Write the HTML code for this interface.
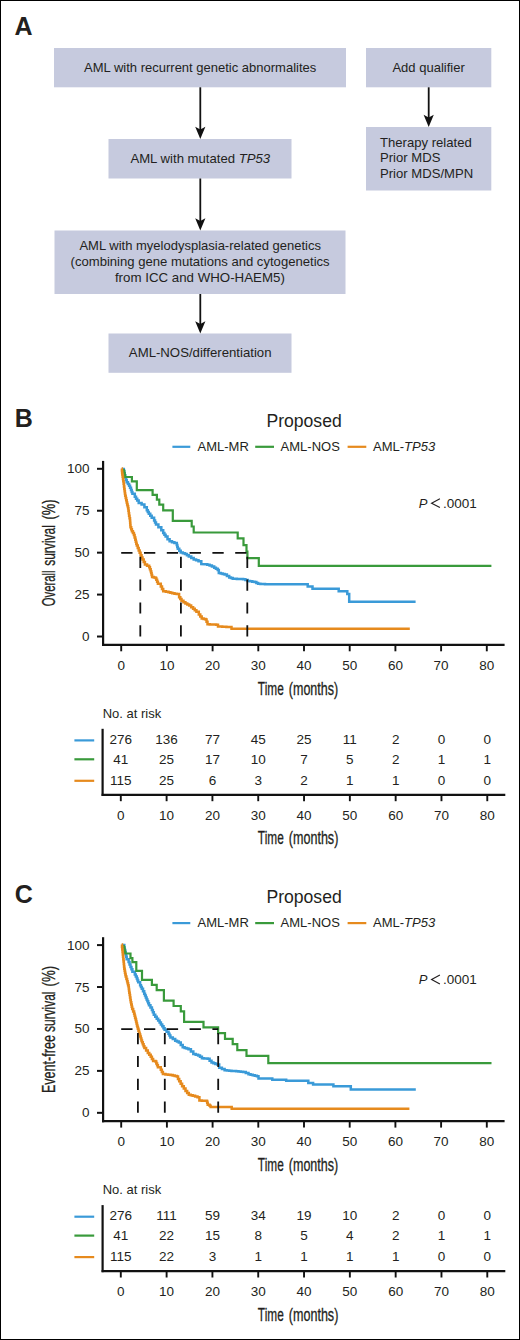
<!DOCTYPE html>
<html><head><meta charset="utf-8"><title>Figure</title>
<style>
html,body{margin:0;padding:0;background:#fff;}
body{width:520px;height:1340px;overflow:hidden;}
.frame{position:absolute;left:0;top:0;width:518px;height:1338px;border:1px solid #000;}
svg{position:absolute;left:0;top:0;}
text{font-family:"Liberation Sans", sans-serif;fill:#231f20;}
.lab{font-weight:bold;font-size:25px;}
.bt{font-size:13px;}
.t13{font-size:13px;}
.n13{font-size:13.5px;}
.title{font-size:17.6px;}
.cond{font-size:17.5px;stroke:#231f20;stroke-width:0.3px;}
</style></head>
<body>
<div class="frame"></div>
<svg width="520" height="1340" viewBox="0 0 520 1340">
<text x="14.5" y="35" class="lab">A</text>
<rect x="54" y="48" width="292" height="39.3" fill="#c6cade"/>
<rect x="366" y="48" width="125.3" height="39.3" fill="#c6cade"/>
<rect x="108.5" y="139" width="183" height="39.5" fill="#c6cade"/>
<rect x="366" y="127" width="125.3" height="63.5" fill="#c6cade"/>
<rect x="54.5" y="230.5" width="291" height="63.5" fill="#c6cade"/>
<rect x="108.5" y="333.5" width="183" height="39.3" fill="#c6cade"/>
<text x="200.2" y="72" class="bt" text-anchor="middle">AML with recurrent genetic abnormalites</text>
<text x="428.6" y="72" class="bt" text-anchor="middle">Add qualifier</text>
<text x="200.3" y="162.9" class="bt" style="font-size:13.15px" text-anchor="middle">AML with mutated <tspan font-style="italic">TP53</tspan></text>
<text x="380" y="146.5" class="bt" style="font-size:13.1px">Therapy related</text>
<text x="380" y="162.3" class="bt" style="font-size:13.1px">Prior MDS</text>
<text x="380" y="178.4" class="bt" style="font-size:13.1px">Prior MDS/MPN</text>
<text x="200.2" y="249.6" class="bt" text-anchor="middle">AML with myelodysplasia-related genetics</text>
<text x="200.1" y="266.3" class="bt" style="font-size:13.1px" text-anchor="middle">(combining gene mutations and cytogenetics</text>
<text x="199.9" y="282.3" class="bt" style="font-size:13.3px" text-anchor="middle">from ICC and WHO-HAEM5)</text>
<text x="200.2" y="356.6" class="bt" style="font-size:13.2px" text-anchor="middle">AML-NOS/differentiation</text>
<line x1="200.3" y1="87.3" x2="200.3" y2="133" stroke="#111" stroke-width="1.8"/>
<path d="M195.2 126.7 L200.3 129.4 L205.4 126.7 L200.3 139 Z" fill="#111"/>
<line x1="200.3" y1="178.5" x2="200.3" y2="224.5" stroke="#111" stroke-width="1.8"/>
<path d="M195.2 218.2 L200.3 220.9 L205.4 218.2 L200.3 230.5 Z" fill="#111"/>
<line x1="200.3" y1="294" x2="200.3" y2="327.5" stroke="#111" stroke-width="1.8"/>
<path d="M195.2 321.2 L200.3 323.9 L205.4 321.2 L200.3 333.5 Z" fill="#111"/>
<line x1="428.7" y1="87.3" x2="428.7" y2="121" stroke="#111" stroke-width="1.8"/>
<path d="M423.6 114.7 L428.7 117.4 L433.8 114.7 L428.7 127 Z" fill="#111"/>
<g transform="translate(0,0)">
<text x="14.8" y="426.7" class="lab">B</text>
<text x="304.1" y="426.7" class="title" text-anchor="middle">Proposed</text>
<line x1="172.4" y1="446.8" x2="190.3" y2="446.8" stroke="#3a9ad8" stroke-width="2.2"/>
<text x="197.5" y="451.2" class="t13">AML-MR</text>
<line x1="255.2" y1="446.8" x2="274" y2="446.8" stroke="#399a3b" stroke-width="2.2"/>
<text x="280.6" y="451.2" class="t13">AML-NOS</text>
<line x1="347.6" y1="446.8" x2="366.3" y2="446.8" stroke="#e68a1d" stroke-width="2.2"/>
<text x="373" y="451.2" class="t13">AML-<tspan font-style="italic">TP53</tspan></text>
<line x1="103.1" y1="460.9" x2="103.1" y2="646" stroke="#111" stroke-width="2.2"/>
<line x1="97" y1="468.8" x2="103" y2="468.8" stroke="#111" stroke-width="2"/>
<text x="89.6" y="473.3" class="n13" text-anchor="end">100</text>
<line x1="97" y1="510.73" x2="103" y2="510.73" stroke="#111" stroke-width="2"/>
<text x="89.6" y="515.23" class="n13" text-anchor="end">75</text>
<line x1="97" y1="552.66" x2="103" y2="552.66" stroke="#111" stroke-width="2"/>
<text x="89.6" y="557.16" class="n13" text-anchor="end">50</text>
<line x1="97" y1="594.59" x2="103" y2="594.59" stroke="#111" stroke-width="2"/>
<text x="89.6" y="599.09" class="n13" text-anchor="end">25</text>
<line x1="97" y1="636.52" x2="103" y2="636.52" stroke="#111" stroke-width="2"/>
<text x="89.6" y="641.02" class="n13" text-anchor="end">0</text>
<line x1="102" y1="644.9" x2="504.6" y2="644.9" stroke="#111" stroke-width="2.3"/>
<line x1="121.2" y1="645" x2="121.2" y2="651.3" stroke="#111" stroke-width="1.9"/>
<text x="121.2" y="669.6" class="n13" text-anchor="middle">0</text>
<line x1="166.9" y1="645" x2="166.9" y2="651.3" stroke="#111" stroke-width="1.9"/>
<text x="166.9" y="669.6" class="n13" text-anchor="middle">10</text>
<line x1="212.6" y1="645" x2="212.6" y2="651.3" stroke="#111" stroke-width="1.9"/>
<text x="212.6" y="669.6" class="n13" text-anchor="middle">20</text>
<line x1="258.3" y1="645" x2="258.3" y2="651.3" stroke="#111" stroke-width="1.9"/>
<text x="258.3" y="669.6" class="n13" text-anchor="middle">30</text>
<line x1="304" y1="645" x2="304" y2="651.3" stroke="#111" stroke-width="1.9"/>
<text x="304" y="669.6" class="n13" text-anchor="middle">40</text>
<line x1="349.7" y1="645" x2="349.7" y2="651.3" stroke="#111" stroke-width="1.9"/>
<text x="349.7" y="669.6" class="n13" text-anchor="middle">50</text>
<line x1="395.4" y1="645" x2="395.4" y2="651.3" stroke="#111" stroke-width="1.9"/>
<text x="395.4" y="669.6" class="n13" text-anchor="middle">60</text>
<line x1="441.1" y1="645" x2="441.1" y2="651.3" stroke="#111" stroke-width="1.9"/>
<text x="441.1" y="669.6" class="n13" text-anchor="middle">70</text>
<line x1="486.8" y1="645" x2="486.8" y2="651.3" stroke="#111" stroke-width="1.9"/>
<text x="486.8" y="669.6" class="n13" text-anchor="middle">80</text>
<text x="257.86" y="694.5" class="cond" textLength="25.87" lengthAdjust="spacingAndGlyphs">Time</text>
<text x="288.85" y="694.5" class="cond" textLength="49.27" lengthAdjust="spacingAndGlyphs">(months)</text>
<text transform="translate(55,606.31) rotate(-90)" class="cond" textLength="35.88" lengthAdjust="spacingAndGlyphs">Overall</text>
<text transform="translate(55,565.86) rotate(-90)" class="cond" textLength="40.84" lengthAdjust="spacingAndGlyphs">survival</text>
<text transform="translate(55,519.58) rotate(-90)" class="cond" textLength="20.12" lengthAdjust="spacingAndGlyphs">(%)</text>
<text x="418.8" y="507.7" class="t13"><tspan font-style="italic">P</tspan><tspan x="443.1" font-size="13.5">.0001</tspan></text>
<path d="M439.9 498.8 L431.6 503.2 L439.9 507.6" fill="none" stroke="#231f20" stroke-width="1.15"/>
<path d="M121.8 469 L123.8 469 L123.8 470.8 L124.27 470.8 L124.27 473.03 L124.73 473.03 L124.73 475.27 L125.2 475.27 L125.2 477.5 L125.95 477.5 L125.95 479.9 L126.7 479.9 L126.7 482.3 L127.9 482.3 L127.9 484 L129.1 484 L129.1 485.7 L130.05 485.7 L130.05 487.85 L131 487.85 L131 490 L131.7 490 L131.7 491.9 L132.4 491.9 L132.4 493.8 L134.8 493.8 L134.8 496.7 L136 496.7 L136 498.65 L137.2 498.65 L137.2 500.6 L138.7 500.6 L138.7 503 L141.6 503 L141.6 504.4 L144.4 504.4 L144.4 507.3 L146.8 507.3 L146.8 510.2 L147.8 510.2 L147.8 512 L148.8 512 L148.8 513.8 L150.25 513.8 L150.25 515.75 L151.7 515.75 L151.7 517.7 L154.1 517.7 L154.1 520.6 L155.05 520.6 L155.05 522.5 L156 522.5 L156 524.4 L158.4 524.4 L158.4 527.3 L161.3 527.3 L161.3 530.2 L163.2 530.2 L163.2 533.1 L164.4 533.1 L164.4 534.85 L165.6 534.85 L165.6 536.6 L167.5 536.6 L167.5 539.3 L169.6 539.3 L169.6 541.2 L172 541.2 L172 542.15 L174.4 542.15 L174.4 543.1 L176.8 543.1 L176.8 545 L177.3 545 L177.3 546.9 L177.8 546.9 L177.8 548.8 L179.25 548.8 L179.25 550.65 L180.7 550.65 L180.7 552.5 L182.85 552.5 L182.85 553.3 L185 553.3 L185 554.1 L186.9 554.1 L186.9 555.3 L188.8 555.3 L188.8 556.5 L191.25 556.5 L191.25 557.95 L193.7 557.95 L193.7 559.4 L196.1 559.4 L196.1 560.35 L198.5 560.35 L198.5 561.3 L201.3 561.3 L201.3 564 L205 564.3 L207.3 564.3 L207.3 564.85 L209.6 564.85 L209.6 565.4 L211.9 565.4 L211.9 566.55 L214.2 566.55 L214.2 567.7 L215.95 567.7 L215.95 568.85 L217.7 568.85 L217.7 570 L218.8 570 L218.8 572.9 L220.73 572.9 L220.73 573.47 L222.67 573.47 L222.67 574.03 L224.6 574.03 L224.6 574.6 L226.9 574.6 L226.9 576.05 L229.2 576.05 L229.2 577.5 L230.95 577.5 L230.95 578.1 L232.7 578.1 L232.7 578.7 L234.78 578.7 L234.78 578.8 L236.86 578.8 L236.86 578.9 L238.94 578.9 L238.94 579 L241.02 579 L241.02 579.1 L243.1 579.1 L243.1 579.2 L245.4 579.2 L245.4 580.1 L247.7 580.1 L247.7 581 L250 581 L250 581.37 L252.3 581.37 L252.3 581.73 L254.6 581.73 L254.6 582.1 L256.35 582.1 L256.35 582.95 L258.1 582.95 L258.1 583.8 L260.4 583.8 L260.4 583.93 L262.7 583.93 L262.7 584.07 L265 584.07 L265 584.2 L307.7 584.2 L307.7 586.4 L312.5 586.4 L312.5 588.7 L338.7 588.7 L338.7 591.2 L347.3 591.2 L347.3 594 L349.2 594 L349.2 601.8 L415.6 601.8" fill="none" stroke="#3a9ad8" stroke-width="2.5" stroke-linejoin="miter"/>
<path d="M122.6 470 L123.8 470 L123.8 471 L124.23 471 L124.23 473 L124.67 473 L124.67 475 L125.1 475 L125.1 477 L131.9 477 L131.9 481.3 L136.8 481.3 L136.8 490.1 L152.6 490.1 L152.6 494.9 L156.9 494.9 L156.9 499.7 L159.3 499.7 L159.3 504.6 L163.2 504.6 L163.2 510.3 L172.8 510.3 L172.8 520.8 L191.7 520.8 L191.7 526.5 L193.7 526.5 L193.7 532.5 L237.7 532.5 L237.7 538.4 L243.5 538.4 L243.5 545.2 L246.5 545.2 L246.5 551.5 L247.4 551.5 L247.4 558.2 L258.8 558.2 L258.8 565.9 L491.4 565.9" fill="none" stroke="#399a3b" stroke-width="2.2" stroke-linejoin="miter"/>
<path d="M121.7 468.6 L121.9 468.6 L121.9 470.6 L122.1 470.6 L122.1 472.6 L122.3 472.6 L122.3 474.6 L122.63 474.6 L122.63 476.83 L122.97 476.83 L122.97 479.07 L123.3 479.07 L123.3 481.3 L123.63 481.3 L123.63 483.87 L123.97 483.87 L123.97 486.43 L124.3 486.43 L124.3 489 L124.6 489 L124.6 491.27 L124.9 491.27 L124.9 493.53 L125.2 493.53 L125.2 495.8 L125.7 495.8 L125.7 498.03 L126.2 498.03 L126.2 500.27 L126.7 500.27 L126.7 502.5 L127.17 502.5 L127.17 504.43 L127.63 504.43 L127.63 506.37 L128.1 506.37 L128.1 508.3 L128.43 508.3 L128.43 510.8 L128.77 510.8 L128.77 513.3 L129.1 513.3 L129.1 515.8 L129.55 515.8 L129.55 518.2 L130 518.2 L130 520.6 L130.17 520.6 L130.17 522.83 L130.33 522.83 L130.33 525.07 L130.5 525.07 L130.5 527.3 L131.2 527.3 L131.2 529.25 L131.9 529.25 L131.9 531.2 L132.9 531.2 L132.9 533.1 L133.9 533.1 L133.9 535 L134.6 535 L134.6 537.4 L135.3 537.4 L135.3 539.8 L135.8 539.8 L135.8 541.73 L136.3 541.73 L136.3 543.67 L136.8 543.67 L136.8 545.6 L137.75 545.6 L137.75 548 L138.7 548 L138.7 550.4 L139.65 550.4 L139.65 552.8 L140.6 552.8 L140.6 555.2 L141.55 555.2 L141.55 557.4 L142.5 557.4 L142.5 559.6 L143.7 559.6 L143.7 562 L144.9 562 L144.9 564.4 L147.05 564.4 L147.05 565.85 L149.2 565.85 L149.2 567.3 L149.95 567.3 L149.95 569.25 L150.7 569.25 L150.7 571.2 L151.17 571.2 L151.17 573.1 L151.63 573.1 L151.63 575 L152.1 575 L152.1 576.9 L153.8 576.9 L153.8 577.4 L155.5 577.4 L155.5 577.9 L156.3 577.9 L156.3 579.83 L157.1 579.83 L157.1 581.77 L157.9 581.77 L157.9 583.7 L160.8 583.7 L160.8 586.5 L162 586.5 L162 588.9 L163.2 588.9 L163.2 591.3 L165.85 591.3 L165.85 591.8 L168.5 591.8 L168.5 592.3 L170.4 592.3 L170.4 592.8 L172.3 592.8 L172.3 593.3 L174.5 593.3 L174.5 593.65 L176.7 593.65 L176.7 594 L179.1 594 L179.1 597.3 L180.3 597.3 L180.3 599 L181.5 599 L181.5 600.7 L183.45 600.7 L183.45 602.15 L185.4 602.15 L185.4 603.6 L187.3 603.6 L187.3 604.55 L189.2 604.55 L189.2 605.5 L191.15 605.5 L191.15 607.15 L193.1 607.15 L193.1 608.8 L194.75 608.8 L194.75 610.25 L196.4 610.25 L196.4 611.7 L198.8 611.7 L198.8 614.6 L200.25 614.6 L200.25 616.55 L201.7 616.55 L201.7 618.5 L203.65 618.5 L203.65 618.95 L205.6 618.95 L205.6 619.4 L206.55 619.4 L206.55 621.85 L207.5 621.85 L207.5 624.3 L209.68 624.3 L209.68 624.4 L211.85 624.4 L211.85 624.5 L214.02 624.5 L214.02 624.6 L216.2 624.6 L216.2 624.7 L218 624.7 L218 626.5 L220.1 626.5 L220.1 626.6 L222.2 626.6 L222.2 626.7 L224.3 626.7 L224.3 626.8 L226.4 626.8 L226.4 626.9 L228.5 626.9 L228.5 627 L230.6 627 L230.6 627.1 L231.5 627.1 L231.5 628.8 L409.8 628.8" fill="none" stroke="#e68a1d" stroke-width="2.5" stroke-linejoin="miter"/>
<line x1="121.2" y1="552.8" x2="247.3" y2="552.8" stroke="#111" stroke-width="1.8" stroke-dasharray="11.3 11.5"/>
<line x1="140.3" y1="636.4" x2="140.3" y2="556.5" stroke="#111" stroke-width="1.8" stroke-dasharray="11.2 11.6"/>
<line x1="180.9" y1="636.4" x2="180.9" y2="556.5" stroke="#111" stroke-width="1.8" stroke-dasharray="11.2 11.6"/>
<line x1="247.3" y1="636.4" x2="247.3" y2="556.5" stroke="#111" stroke-width="1.8" stroke-dasharray="11.2 11.6"/>
<text x="102.7" y="717.7" class="t13">No. at risk</text>
<line x1="102.6" y1="728.8" x2="102.6" y2="795.9" stroke="#111" stroke-width="2.2"/>
<line x1="101.6" y1="794.8" x2="505.3" y2="794.8" stroke="#111" stroke-width="2.2"/>
<line x1="120.8" y1="795" x2="120.8" y2="801.2" stroke="#111" stroke-width="1.9"/>
<text x="120.8" y="819.6" class="n13" text-anchor="middle">0</text>
<line x1="166.61" y1="795" x2="166.61" y2="801.2" stroke="#111" stroke-width="1.9"/>
<text x="166.61" y="819.6" class="n13" text-anchor="middle">10</text>
<line x1="212.42" y1="795" x2="212.42" y2="801.2" stroke="#111" stroke-width="1.9"/>
<text x="212.42" y="819.6" class="n13" text-anchor="middle">20</text>
<line x1="258.23" y1="795" x2="258.23" y2="801.2" stroke="#111" stroke-width="1.9"/>
<text x="258.23" y="819.6" class="n13" text-anchor="middle">30</text>
<line x1="304.04" y1="795" x2="304.04" y2="801.2" stroke="#111" stroke-width="1.9"/>
<text x="304.04" y="819.6" class="n13" text-anchor="middle">40</text>
<line x1="349.85" y1="795" x2="349.85" y2="801.2" stroke="#111" stroke-width="1.9"/>
<text x="349.85" y="819.6" class="n13" text-anchor="middle">50</text>
<line x1="395.66" y1="795" x2="395.66" y2="801.2" stroke="#111" stroke-width="1.9"/>
<text x="395.66" y="819.6" class="n13" text-anchor="middle">60</text>
<line x1="441.47" y1="795" x2="441.47" y2="801.2" stroke="#111" stroke-width="1.9"/>
<text x="441.47" y="819.6" class="n13" text-anchor="middle">70</text>
<line x1="487.28" y1="795" x2="487.28" y2="801.2" stroke="#111" stroke-width="1.9"/>
<text x="487.28" y="819.6" class="n13" text-anchor="middle">80</text>
<text x="257.86" y="844.3" class="cond" textLength="25.87" lengthAdjust="spacingAndGlyphs">Time</text>
<text x="288.85" y="844.3" class="cond" textLength="49.47" lengthAdjust="spacingAndGlyphs">(months)</text>
<line x1="74.4" y1="740.4" x2="94.2" y2="740.4" stroke="#3a9ad8" stroke-width="2.2"/>
<text x="120.8" y="744.1" class="n13" text-anchor="middle">276</text>
<text x="166.61" y="744.1" class="n13" text-anchor="middle">136</text>
<text x="212.42" y="744.1" class="n13" text-anchor="middle">77</text>
<text x="258.23" y="744.1" class="n13" text-anchor="middle">45</text>
<text x="304.04" y="744.1" class="n13" text-anchor="middle">25</text>
<text x="349.85" y="744.1" class="n13" text-anchor="middle">11</text>
<text x="395.66" y="744.1" class="n13" text-anchor="middle">2</text>
<text x="441.47" y="744.1" class="n13" text-anchor="middle">0</text>
<text x="487.28" y="744.1" class="n13" text-anchor="middle">0</text>
<line x1="74.4" y1="759.3" x2="94.2" y2="759.3" stroke="#399a3b" stroke-width="2.2"/>
<text x="120.8" y="763.5" class="n13" text-anchor="middle">41</text>
<text x="166.61" y="763.5" class="n13" text-anchor="middle">25</text>
<text x="212.42" y="763.5" class="n13" text-anchor="middle">17</text>
<text x="258.23" y="763.5" class="n13" text-anchor="middle">10</text>
<text x="304.04" y="763.5" class="n13" text-anchor="middle">7</text>
<text x="349.85" y="763.5" class="n13" text-anchor="middle">5</text>
<text x="395.66" y="763.5" class="n13" text-anchor="middle">2</text>
<text x="441.47" y="763.5" class="n13" text-anchor="middle">1</text>
<text x="487.28" y="763.5" class="n13" text-anchor="middle">1</text>
<line x1="74.4" y1="780.8" x2="94.2" y2="780.8" stroke="#e68a1d" stroke-width="2.2"/>
<text x="120.8" y="784.7" class="n13" text-anchor="middle">115</text>
<text x="166.61" y="784.7" class="n13" text-anchor="middle">25</text>
<text x="212.42" y="784.7" class="n13" text-anchor="middle">6</text>
<text x="258.23" y="784.7" class="n13" text-anchor="middle">3</text>
<text x="304.04" y="784.7" class="n13" text-anchor="middle">2</text>
<text x="349.85" y="784.7" class="n13" text-anchor="middle">1</text>
<text x="395.66" y="784.7" class="n13" text-anchor="middle">1</text>
<text x="441.47" y="784.7" class="n13" text-anchor="middle">0</text>
<text x="487.28" y="784.7" class="n13" text-anchor="middle">0</text>
</g>
<g transform="translate(0,476.3)">
<text x="14.8" y="426.7" class="lab">C</text>
<text x="304.1" y="426.7" class="title" text-anchor="middle">Proposed</text>
<line x1="172.4" y1="446.8" x2="190.3" y2="446.8" stroke="#3a9ad8" stroke-width="2.2"/>
<text x="197.5" y="451.2" class="t13">AML-MR</text>
<line x1="255.2" y1="446.8" x2="274" y2="446.8" stroke="#399a3b" stroke-width="2.2"/>
<text x="280.6" y="451.2" class="t13">AML-NOS</text>
<line x1="347.6" y1="446.8" x2="366.3" y2="446.8" stroke="#e68a1d" stroke-width="2.2"/>
<text x="373" y="451.2" class="t13">AML-<tspan font-style="italic">TP53</tspan></text>
<line x1="103.1" y1="460.9" x2="103.1" y2="646" stroke="#111" stroke-width="2.2"/>
<line x1="97" y1="468.8" x2="103" y2="468.8" stroke="#111" stroke-width="2"/>
<text x="89.6" y="473.3" class="n13" text-anchor="end">100</text>
<line x1="97" y1="510.73" x2="103" y2="510.73" stroke="#111" stroke-width="2"/>
<text x="89.6" y="515.23" class="n13" text-anchor="end">75</text>
<line x1="97" y1="552.66" x2="103" y2="552.66" stroke="#111" stroke-width="2"/>
<text x="89.6" y="557.16" class="n13" text-anchor="end">50</text>
<line x1="97" y1="594.59" x2="103" y2="594.59" stroke="#111" stroke-width="2"/>
<text x="89.6" y="599.09" class="n13" text-anchor="end">25</text>
<line x1="97" y1="636.52" x2="103" y2="636.52" stroke="#111" stroke-width="2"/>
<text x="89.6" y="641.02" class="n13" text-anchor="end">0</text>
<line x1="102" y1="644.9" x2="504.6" y2="644.9" stroke="#111" stroke-width="2.3"/>
<line x1="121.2" y1="645" x2="121.2" y2="651.3" stroke="#111" stroke-width="1.9"/>
<text x="121.2" y="669.6" class="n13" text-anchor="middle">0</text>
<line x1="166.9" y1="645" x2="166.9" y2="651.3" stroke="#111" stroke-width="1.9"/>
<text x="166.9" y="669.6" class="n13" text-anchor="middle">10</text>
<line x1="212.6" y1="645" x2="212.6" y2="651.3" stroke="#111" stroke-width="1.9"/>
<text x="212.6" y="669.6" class="n13" text-anchor="middle">20</text>
<line x1="258.3" y1="645" x2="258.3" y2="651.3" stroke="#111" stroke-width="1.9"/>
<text x="258.3" y="669.6" class="n13" text-anchor="middle">30</text>
<line x1="304" y1="645" x2="304" y2="651.3" stroke="#111" stroke-width="1.9"/>
<text x="304" y="669.6" class="n13" text-anchor="middle">40</text>
<line x1="349.7" y1="645" x2="349.7" y2="651.3" stroke="#111" stroke-width="1.9"/>
<text x="349.7" y="669.6" class="n13" text-anchor="middle">50</text>
<line x1="395.4" y1="645" x2="395.4" y2="651.3" stroke="#111" stroke-width="1.9"/>
<text x="395.4" y="669.6" class="n13" text-anchor="middle">60</text>
<line x1="441.1" y1="645" x2="441.1" y2="651.3" stroke="#111" stroke-width="1.9"/>
<text x="441.1" y="669.6" class="n13" text-anchor="middle">70</text>
<line x1="486.8" y1="645" x2="486.8" y2="651.3" stroke="#111" stroke-width="1.9"/>
<text x="486.8" y="669.6" class="n13" text-anchor="middle">80</text>
<text x="257.86" y="694.5" class="cond" textLength="25.87" lengthAdjust="spacingAndGlyphs">Time</text>
<text x="288.85" y="694.5" class="cond" textLength="49.27" lengthAdjust="spacingAndGlyphs">(months)</text>
<text transform="translate(55,616.81) rotate(-90)" class="cond" textLength="58.01" lengthAdjust="spacingAndGlyphs">Event-free</text>
<text transform="translate(55,555.66) rotate(-90)" class="cond" textLength="40.43" lengthAdjust="spacingAndGlyphs">survival</text>
<text transform="translate(55,510.2) rotate(-90)" class="cond" textLength="20.66" lengthAdjust="spacingAndGlyphs">(%)</text>
<text x="418.8" y="507.7" class="t13"><tspan font-style="italic">P</tspan><tspan x="443.1" font-size="13.5">.0001</tspan></text>
<path d="M439.9 498.8 L431.6 503.2 L439.9 507.6" fill="none" stroke="#231f20" stroke-width="1.15"/>
<path d="M121.8 468.7 L124.3 468.7 L124.3 471.4 L124.77 471.4 L124.77 473.63 L125.23 473.63 L125.23 475.87 L125.7 475.87 L125.7 478.1 L126.2 478.1 L126.2 480.5 L126.7 480.5 L126.7 482.9 L128.6 482.9 L128.6 485.8 L129.55 485.8 L129.55 488.2 L130.5 488.2 L130.5 490.6 L131.45 490.6 L131.45 493 L132.4 493 L132.4 495.4 L134.8 495.4 L134.8 498.3 L135.8 498.3 L135.8 500.25 L136.8 500.25 L136.8 502.2 L137.5 502.2 L137.5 504.1 L138.2 504.1 L138.2 506 L140.1 506 L140.1 508.9 L140.95 508.9 L140.95 510.7 L141.8 510.7 L141.8 512.5 L143 512.5 L143 514.95 L144.2 514.95 L144.2 517.4 L145 517.4 L145 519.3 L145.8 519.3 L145.8 521.2 L146.6 521.2 L146.6 523.1 L147.4 523.1 L147.4 525.03 L148.2 525.03 L148.2 526.97 L149 526.97 L149 528.9 L150.45 528.9 L150.45 531.3 L151.9 531.3 L151.9 533.7 L152.85 533.7 L152.85 536.05 L153.8 536.05 L153.8 538.4 L155.25 538.4 L155.25 540.4 L156.7 540.4 L156.7 542.4 L158.15 542.4 L158.15 544.3 L159.6 544.3 L159.6 546.2 L160.9 546.2 L160.9 548.13 L162.2 548.13 L162.2 550.07 L163.5 550.07 L163.5 552 L164.6 552 L164.6 553.5 L166.55 553.5 L166.55 555.45 L168.5 555.45 L168.5 557.4 L169.45 557.4 L169.45 559.3 L170.4 559.3 L170.4 561.2 L172.8 561.2 L172.8 562.8 L175.2 562.8 L175.2 564.4 L177 564.4 L177 565.3 L178.8 565.3 L178.8 566.2 L180.75 566.2 L180.75 568.6 L182.7 568.6 L182.7 571 L184.63 571 L184.63 571.63 L186.57 571.63 L186.57 572.27 L188.5 572.27 L188.5 572.9 L190.9 572.9 L190.9 575.3 L193.3 575.3 L193.3 577.7 L195.7 577.7 L195.7 578.45 L198.1 578.45 L198.1 579.2 L200 579.2 L200 580.55 L201.9 580.55 L201.9 581.9 L203.83 581.9 L203.83 582.1 L205.77 582.1 L205.77 582.3 L207.7 582.3 L207.7 582.5 L209.6 582.5 L209.6 584.35 L211.5 584.35 L211.5 586.2 L213.43 586.2 L213.43 586.9 L215.37 586.9 L215.37 587.6 L217.3 587.6 L217.3 588.3 L219.2 588.3 L219.2 591.5 L221.9 591.5 L221.9 592.75 L224.6 592.75 L224.6 594 L226.9 594 L226.9 594.2 L229.2 594.2 L229.2 594.4 L231.5 594.4 L231.5 594.6 L233.8 594.6 L233.8 594.8 L236.12 594.8 L236.12 595.02 L238.45 595.02 L238.45 595.25 L240.78 595.25 L240.78 595.48 L243.1 595.48 L243.1 595.7 L245.8 595.7 L245.8 596.8 L248.5 596.8 L248.5 597.9 L250.6 597.9 L250.6 598.4 L252.7 598.4 L252.7 598.9 L254.8 598.9 L254.8 599.4 L256.9 599.4 L256.9 599.9 L258.5 599.9 L258.5 602.2 L270.8 602.3 L272.3 602.3 L272.3 603.4 L284.6 603.4 L286.2 603.4 L286.2 604.5 L308.3 604.5 L308.3 606.8 L313.1 606.8 L313.1 608.2 L333.4 608.2 L333.4 609.9 L350.8 609.9 L350.8 613.1 L415.8 613.1" fill="none" stroke="#3a9ad8" stroke-width="2.5" stroke-linejoin="miter"/>
<path d="M122.6 469.7 L123.8 469.7 L123.8 470.9 L124.27 470.9 L124.27 473 L124.73 473 L124.73 475.1 L125.2 475.1 L125.2 477.2 L130.5 477.2 L130.5 481.8 L132.4 481.8 L132.4 485.8 L136.3 485.8 L136.3 494.5 L142 494.5 L142 503.6 L151.9 503.6 L151.9 508.5 L156.7 508.5 L156.7 513.8 L163.9 513.8 L163.9 524.4 L173.6 524.4 L173.6 529.7 L180.8 529.7 L180.8 535 L184.1 535 L184.1 545.6 L203.5 545.6 L203.5 551 L218.1 551 L218.1 556.8 L225 556.8 L225 562.5 L232.7 562.5 L232.7 567.9 L237.3 567.9 L237.3 573.8 L246.5 573.8 L246.5 579.5 L268.3 579.5 L268.3 586.8 L491.5 586.8" fill="none" stroke="#399a3b" stroke-width="2.2" stroke-linejoin="miter"/>
<path d="M121.7 468.2 L122 468.2 L122 470.75 L122.3 470.75 L122.3 473.3 L122.55 473.3 L122.55 475.7 L122.8 475.7 L122.8 478.1 L123.05 478.1 L123.05 480.5 L123.3 480.5 L123.3 482.9 L123.55 482.9 L123.55 485.3 L123.8 485.3 L123.8 487.7 L124.05 487.7 L124.05 490.1 L124.3 490.1 L124.3 492.5 L124.65 492.5 L124.65 494.42 L125 494.42 L125 496.35 L125.35 496.35 L125.35 498.27 L125.7 498.27 L125.7 500.2 L126.4 500.2 L126.4 502.6 L127.1 502.6 L127.1 505 L127.6 505 L127.6 506.93 L128.1 506.93 L128.1 508.87 L128.6 508.87 L128.6 510.8 L128.83 510.8 L128.83 512.67 L129.07 512.67 L129.07 514.53 L129.3 514.53 L129.3 516.4 L129.68 516.4 L129.68 518.8 L130.05 518.8 L130.05 521.2 L130.43 521.2 L130.43 523.6 L130.8 523.6 L130.8 526 L131.27 526 L131.27 528.23 L131.73 528.23 L131.73 530.47 L132.2 530.47 L132.2 532.7 L133.15 532.7 L133.15 535.1 L134.1 535.1 L134.1 537.5 L134.6 537.5 L134.6 539.43 L135.1 539.43 L135.1 541.37 L135.6 541.37 L135.6 543.3 L136.07 543.3 L136.07 545.23 L136.53 545.23 L136.53 547.17 L137 547.17 L137 549.1 L137.45 549.1 L137.45 550.8 L137.9 550.8 L137.9 552.5 L138.47 552.5 L138.47 554.43 L139.03 554.43 L139.03 556.37 L139.6 556.37 L139.6 558.3 L140.2 558.3 L140.2 560.22 L140.8 560.22 L140.8 562.15 L141.4 562.15 L141.4 564.08 L142 564.08 L142 566 L142.8 566 L142.8 567.93 L143.6 567.93 L143.6 569.87 L144.4 569.87 L144.4 571.8 L146.1 571.8 L146.1 574.2 L147.8 574.2 L147.8 576.6 L149.25 576.6 L149.25 578.5 L150.7 578.5 L150.7 580.4 L151.9 580.4 L151.9 582.6 L153.1 582.6 L153.1 584.8 L155.5 584.8 L155.5 585.2 L156.3 585.2 L156.3 587.13 L157.1 587.13 L157.1 589.07 L157.9 589.07 L157.9 591 L160.8 591 L160.8 593.4 L161.85 593.4 L161.85 595.6 L162.9 595.6 L162.9 597.8 L165.47 597.8 L165.47 598.13 L168.03 598.13 L168.03 598.47 L170.6 598.47 L170.6 598.8 L172.67 598.8 L172.67 599.27 L174.73 599.27 L174.73 599.73 L176.8 599.73 L176.8 600.2 L178 600.2 L178 602.6 L179.2 602.6 L179.2 605 L180.65 605 L180.65 607.45 L182.1 607.45 L182.1 609.9 L183.8 609.9 L183.8 612.3 L185.5 612.3 L185.5 614.7 L187.15 614.7 L187.15 616.6 L188.8 616.6 L188.8 618.5 L190.75 618.5 L190.75 619 L192.7 619 L192.7 619.5 L195.1 619.5 L195.1 620.2 L197.5 620.2 L197.5 620.9 L199.4 620.9 L199.4 624.2 L201.83 624.2 L201.83 624.33 L204.27 624.33 L204.27 624.47 L206.7 624.47 L206.7 624.6 L207.2 624.6 L207.2 626.5 L207.7 626.5 L207.7 628.4 L209.6 628.4 L209.6 629.4 L210.6 629.4 L210.6 630.8 L231.3 630.8 L231.7 630.8 L231.7 632.4 L409.4 632.4" fill="none" stroke="#e68a1d" stroke-width="2.5" stroke-linejoin="miter"/>
<line x1="121.2" y1="552.8" x2="218.2" y2="552.8" stroke="#111" stroke-width="1.8" stroke-dasharray="11.3 11.5"/>
<line x1="137.9" y1="636.4" x2="137.9" y2="556.5" stroke="#111" stroke-width="1.8" stroke-dasharray="11.2 11.6"/>
<line x1="164.8" y1="636.4" x2="164.8" y2="556.5" stroke="#111" stroke-width="1.8" stroke-dasharray="11.2 11.6"/>
<line x1="218.2" y1="636.4" x2="218.2" y2="556.5" stroke="#111" stroke-width="1.8" stroke-dasharray="11.2 11.6"/>
<text x="102.7" y="717.7" class="t13">No. at risk</text>
<line x1="102.6" y1="728.8" x2="102.6" y2="795.9" stroke="#111" stroke-width="2.2"/>
<line x1="101.6" y1="794.8" x2="505.3" y2="794.8" stroke="#111" stroke-width="2.2"/>
<line x1="120.8" y1="795" x2="120.8" y2="801.2" stroke="#111" stroke-width="1.9"/>
<text x="120.8" y="819.6" class="n13" text-anchor="middle">0</text>
<line x1="166.61" y1="795" x2="166.61" y2="801.2" stroke="#111" stroke-width="1.9"/>
<text x="166.61" y="819.6" class="n13" text-anchor="middle">10</text>
<line x1="212.42" y1="795" x2="212.42" y2="801.2" stroke="#111" stroke-width="1.9"/>
<text x="212.42" y="819.6" class="n13" text-anchor="middle">20</text>
<line x1="258.23" y1="795" x2="258.23" y2="801.2" stroke="#111" stroke-width="1.9"/>
<text x="258.23" y="819.6" class="n13" text-anchor="middle">30</text>
<line x1="304.04" y1="795" x2="304.04" y2="801.2" stroke="#111" stroke-width="1.9"/>
<text x="304.04" y="819.6" class="n13" text-anchor="middle">40</text>
<line x1="349.85" y1="795" x2="349.85" y2="801.2" stroke="#111" stroke-width="1.9"/>
<text x="349.85" y="819.6" class="n13" text-anchor="middle">50</text>
<line x1="395.66" y1="795" x2="395.66" y2="801.2" stroke="#111" stroke-width="1.9"/>
<text x="395.66" y="819.6" class="n13" text-anchor="middle">60</text>
<line x1="441.47" y1="795" x2="441.47" y2="801.2" stroke="#111" stroke-width="1.9"/>
<text x="441.47" y="819.6" class="n13" text-anchor="middle">70</text>
<line x1="487.28" y1="795" x2="487.28" y2="801.2" stroke="#111" stroke-width="1.9"/>
<text x="487.28" y="819.6" class="n13" text-anchor="middle">80</text>
<text x="257.86" y="844.3" class="cond" textLength="25.87" lengthAdjust="spacingAndGlyphs">Time</text>
<text x="288.85" y="844.3" class="cond" textLength="49.47" lengthAdjust="spacingAndGlyphs">(months)</text>
<line x1="74.4" y1="740.4" x2="94.2" y2="740.4" stroke="#3a9ad8" stroke-width="2.2"/>
<text x="120.8" y="744.1" class="n13" text-anchor="middle">276</text>
<text x="166.61" y="744.1" class="n13" text-anchor="middle">111</text>
<text x="212.42" y="744.1" class="n13" text-anchor="middle">59</text>
<text x="258.23" y="744.1" class="n13" text-anchor="middle">34</text>
<text x="304.04" y="744.1" class="n13" text-anchor="middle">19</text>
<text x="349.85" y="744.1" class="n13" text-anchor="middle">10</text>
<text x="395.66" y="744.1" class="n13" text-anchor="middle">2</text>
<text x="441.47" y="744.1" class="n13" text-anchor="middle">0</text>
<text x="487.28" y="744.1" class="n13" text-anchor="middle">0</text>
<line x1="74.4" y1="759.3" x2="94.2" y2="759.3" stroke="#399a3b" stroke-width="2.2"/>
<text x="120.8" y="763.5" class="n13" text-anchor="middle">41</text>
<text x="166.61" y="763.5" class="n13" text-anchor="middle">22</text>
<text x="212.42" y="763.5" class="n13" text-anchor="middle">15</text>
<text x="258.23" y="763.5" class="n13" text-anchor="middle">8</text>
<text x="304.04" y="763.5" class="n13" text-anchor="middle">5</text>
<text x="349.85" y="763.5" class="n13" text-anchor="middle">4</text>
<text x="395.66" y="763.5" class="n13" text-anchor="middle">2</text>
<text x="441.47" y="763.5" class="n13" text-anchor="middle">1</text>
<text x="487.28" y="763.5" class="n13" text-anchor="middle">1</text>
<line x1="74.4" y1="780.8" x2="94.2" y2="780.8" stroke="#e68a1d" stroke-width="2.2"/>
<text x="120.8" y="784.7" class="n13" text-anchor="middle">115</text>
<text x="166.61" y="784.7" class="n13" text-anchor="middle">22</text>
<text x="212.42" y="784.7" class="n13" text-anchor="middle">3</text>
<text x="258.23" y="784.7" class="n13" text-anchor="middle">1</text>
<text x="304.04" y="784.7" class="n13" text-anchor="middle">1</text>
<text x="349.85" y="784.7" class="n13" text-anchor="middle">1</text>
<text x="395.66" y="784.7" class="n13" text-anchor="middle">1</text>
<text x="441.47" y="784.7" class="n13" text-anchor="middle">0</text>
<text x="487.28" y="784.7" class="n13" text-anchor="middle">0</text>
</g>
</svg>
</body></html>
